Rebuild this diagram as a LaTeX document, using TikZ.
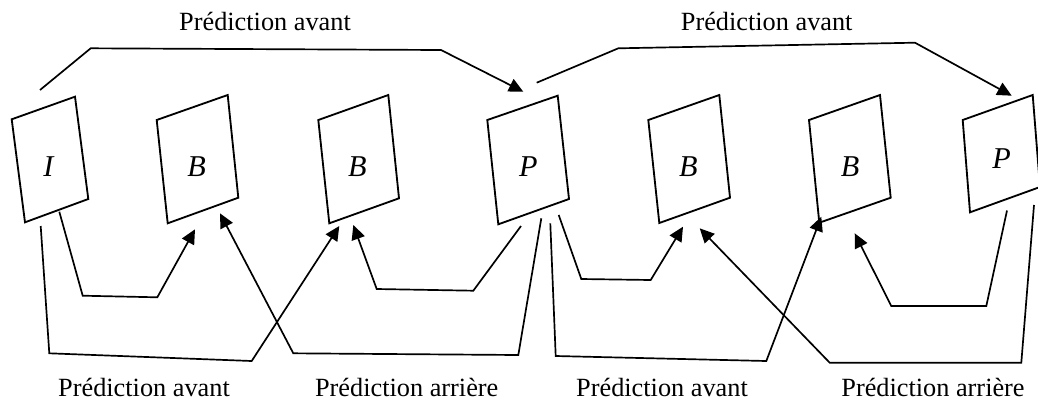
\documentclass[tikz,border=0pt]{standalone}
\usepackage{fontspec}
\setmainfont{Liberation Serif}
\usetikzlibrary{arrows.meta}

\begin{document}
\begin{tikzpicture}[
    x=0.025cm, y=-0.025cm,
    imgframe/.style={draw, line width=1.3pt, line join=miter},
    imglabel/.style={font=\fontsize{21.5}{24}\selectfont\itshape},
    predlabel/.style={font=\fontsize{18.7}{22}\selectfont, anchor=base},
    predarrow/.style={-{Triangle[length=3.6mm, width=3.4mm]}, line width=1.2pt}
  ]
    \useasboundingbox (0,0) rectangle (1038,403);
    % images
    \draw[imgframe] (11.7,119.3) -- (75,96.7) -- (88.3,199) -- (25,222.3) -- cycle;
    \draw[imgframe] (156.7,120) -- (227.7,95) -- (238.3,197.7) -- (167.7,223.3) -- cycle;
    \draw[imgframe] (318.3,120) -- (388.3,95) -- (399,198.3) -- (329.3,223.3) -- cycle;
    \draw[imgframe] (487.3,120) -- (557.7,95.7) -- (569,199) -- (498.3,224.3) -- cycle;
    \draw[imgframe] (648.3,120) -- (719.3,95) -- (730,197.7) -- (659.3,223) -- cycle;
    \draw[imgframe] (809,120) -- (880,95) -- (890.7,197.7) -- (819.3,222.7) -- cycle;
    \draw[imgframe] (962.7,120) -- (1032.7,95) -- (1040,187) -- (970,212.3) -- cycle;
    \node[imglabel] (imgI) at (48.3,166.7) {I};
    \node[imglabel] (imgB1) at (196.7,166.7) {B};
    \node[imglabel] (imgB2) at (357.3,166.7) {B};
    \node[imglabel] (imgP1) at (528.3,166.7) {P};
    \node[imglabel] (imgB3) at (688.3,166.7) {B};
    \node[imglabel] (imgB4) at (850,166.7) {B};
    \node[imglabel] (imgP2) at (1001.7,158.3) {P};
    % labels
    \node[predlabel] (topA) at (265,30) {Prédiction avant};
    \node[predlabel] (topB) at (766.7,30) {Prédiction avant};
    \node[predlabel] (botA) at (144,396) {Prédiction avant};
    \node[predlabel] (botB) at (406.7,396) {Prédiction arrière};
    \node[predlabel] (botC) at (662,396) {Prédiction avant};
    \node[predlabel] (botD) at (933,396) {Prédiction arrière};
    % arrow ends
    \coordinate (Itop) at (40,90);
    \coordinate (Iout) at (59.3,211.7);
    \coordinate (Ifar) at (40.7,226);
    \coordinate (B1in) at (195,229.3);
    \coordinate (B1back) at (220,213.3);
    \coordinate (B2in) at (339.3,226);
    \coordinate (B2back) at (353.3,225);
    \coordinate (P1in) at (523.3,91.7);
    \coordinate (P1top) at (536.7,82.7);
    \coordinate (P1toB2) at (521,226);
    \coordinate (P1toB1) at (541.3,218.3);
    \coordinate (P1far) at (550.3,223.3);
    \coordinate (P1out) at (558.7,215);
    \coordinate (B3in) at (683,226.7);
    \coordinate (B3back) at (699.7,228.3);
    \coordinate (B4in) at (821.3,216.7);
    \coordinate (B4back) at (854.7,233.3);
    \coordinate (P2in) at (1011.7,95.7);
    \coordinate (P2toB4) at (1007,210.5);
    \coordinate (P2toB3) at (1034,205);
    % forward prediction, top
    \draw[predarrow] (Itop) -- (90.7,48.3) -- (441,50) -- (P1in);
    \draw[predarrow] (P1top) -- (618.3,48.3) -- (915,42.7) -- (P2in);
    % forward and backward prediction, bottom
    \draw[predarrow] (Iout) -- (82.7,295.7) -- (157.3,297.3) -- (B1in);
    \draw[predarrow] (Ifar) -- (49.3,353.3) -- (251.7,361) -- (B2in);
    \draw[predarrow] (P1toB1) -- (518.3,355) -- (293.3,353.3) -- (B1back);
    \draw[predarrow] (P1toB2) -- (473.3,290.7) -- (376.7,289) -- (B2back);
    \draw[predarrow] (P1out) -- (581.3,279) -- (650.7,280) -- (B3in);
    \draw[predarrow] (P1far) -- (555.7,356) -- (766.3,361) -- (B4in);
    \draw[predarrow] (P2toB3) -- (1021.3,362.7) -- (829.7,362.7) -- (B3back);
    \draw[predarrow] (P2toB4) -- (986.3,306) -- (891.3,306) -- (B4back);
  \end{tikzpicture}
\end{document}
